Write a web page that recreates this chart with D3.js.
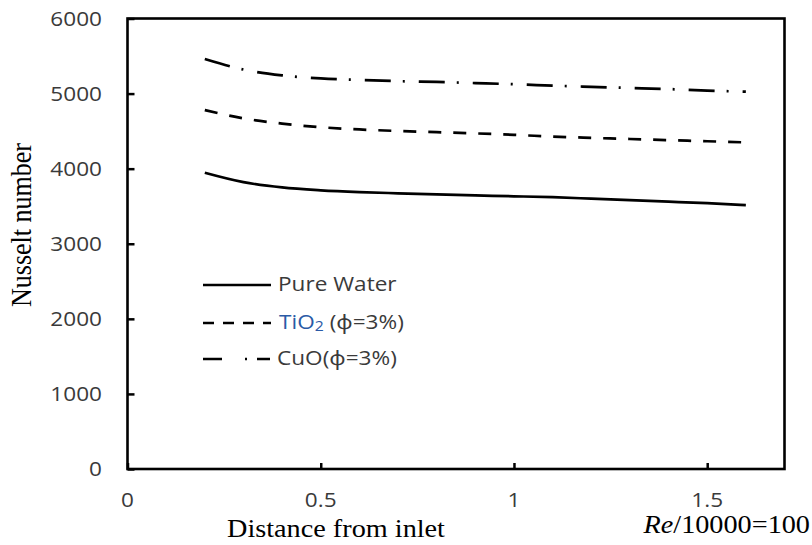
<!DOCTYPE html>
<html><head><meta charset="utf-8">
<script src="https://cdn.jsdelivr.net/npm/d3@7/dist/d3.min.js"></script>
<style>html,body{margin:0;padding:0;background:#fff;}svg{display:block;}</style>
</head><body><svg id="c" width="812" height="545"></svg>
<script>
// ---- data ----
const xValues = [0.2,0.3,0.4,0.5,0.6,0.7,0.8,0.9,1.0,1.1,1.2,1.3,1.4,1.5,1.6];
const pureWater = [3945,3820,3750,3712,3688,3672,3657,3643,3632,3620,3600,3580,3560,3540,3515];
const tio2 = [4780,4670,4600,4552,4522,4502,4486,4470,4450,4428,4410,4395,4380,4365,4350];
const cuo = [5460,5320,5243,5202,5181,5166,5155,5140,5125,5106,5090,5075,5060,5040,5025];
const seriesNames = ["Pure Water","TiO2","CuO"];
const xTicks = [0,0.5,1,1.5];
const xTickLabels = ["0","0.5","1","1.5"];
const yTicks = [0,1000,2000,3000,4000,5000,6000];
const xTitle = "Distance from inlet";
const yTitle = "Nusselt number";

// ---- layout ----
const L=127.5, R=784.5, T=18.5, B=469;
const SX=1.13; // horizontal stretch of the original image text
const svg=d3.select("#c");
const x=d3.scaleLinear().domain([0,1.7]).range([L,R]);
const y=d3.scaleLinear().domain([0,6000]).range([B,T]);
const sansF="'Open Sans', 'Noto Sans', sans-serif";
const serifF="'Liberation Serif', 'Times New Roman', serif";
const txtCol="#3a3a3a";

function stretchedText(px,py,anchor,size,family,color,rot){
  const g=svg.append("g").attr("transform",`translate(${px},${py}) scale(${SX},1)`+(rot?` rotate(${rot})`:""));
  return g.append("text").attr("text-anchor",anchor).attr("font-size",size)
    .attr("font-family",family).attr("fill",color);
}

// axes (ticks inside)
const yAxis=d3.axisRight(y).tickValues(yTicks).tickSize(7).tickFormat("");
const xAxis=d3.axisTop(x).tickValues(xTicks).tickSize(6).tickFormat("");
const ga=svg.append("g").attr("transform",`translate(${L},0)`).call(yAxis);
const gb=svg.append("g").attr("transform",`translate(0,${B})`).call(xAxis);
[ga,gb].forEach(g=>{g.select(".domain").remove();g.selectAll("line").attr("stroke","#000").attr("stroke-width",2.5);});
// frame
svg.append("rect").attr("x",L).attr("y",T).attr("width",R-L).attr("height",B-T)
  .attr("fill","none").attr("stroke","#000").attr("stroke-width",2.6);

// tick labels
yTicks.forEach(v=>{
  stretchedText(102,y(v)+7,"end",20,sansF,txtCol).text(d3.format("d")(v));
});
xTicks.forEach((v,i)=>{
  stretchedText(x(v),507,"middle",20,sansF,txtCol).text(xTickLabels[i]);
});

// axis titles
stretchedText(336,537,"middle",25,serifF,"#000").text(xTitle);
const reT=stretchedText(810,533,"end",25,serifF,"#000");
reT.append("tspan").attr("font-style","italic").text("Re");
reT.append("tspan").text("/10000=100");
stretchedText(31,225,"middle",26,serifF,"#000",-90).text(yTitle);

// lines
const line=d3.line().x((d,i)=>x(xValues[i])).y(d=>y(d)).curve(d3.curveMonotoneX);
const styles=[
  {data:pureWater,dash:null},
  {data:tio2,dash:"13,12"},
  {data:cuo,dash:"26,12,2,14"}
];
styles.forEach(s=>{
  svg.append("path").datum(s.data).attr("d",line).attr("fill","none")
    .attr("stroke","#000").attr("stroke-width",2.7)
    .attr("stroke-dasharray",s.dash);
});

// legend
const legY=[285,323,359];
const legDash=[null,"11,9","19,23,2,10,13"];
legY.forEach((ly,i)=>{
  svg.append("line").attr("x1",203).attr("x2",271).attr("y1",ly).attr("y2",ly)
    .attr("stroke","#000").attr("stroke-width",2.7).attr("stroke-dasharray",legDash[i]);
});
stretchedText(278,291,"start",20,sansF,txtCol).text(seriesNames[0]);
const t2=stretchedText(279,329,"start",20,sansF,txtCol);
t2.append("tspan").attr("fill","#2a5aa6").text("TiO");
t2.append("tspan").attr("fill","#2a5aa6").attr("font-size",14).attr("dy",2).text("2");
t2.append("tspan").attr("dy",-2).text(" (ϕ=3%)");
stretchedText(277,365,"start",20,sansF,txtCol).text("CuO(ϕ=3%)");
</script></body></html>
